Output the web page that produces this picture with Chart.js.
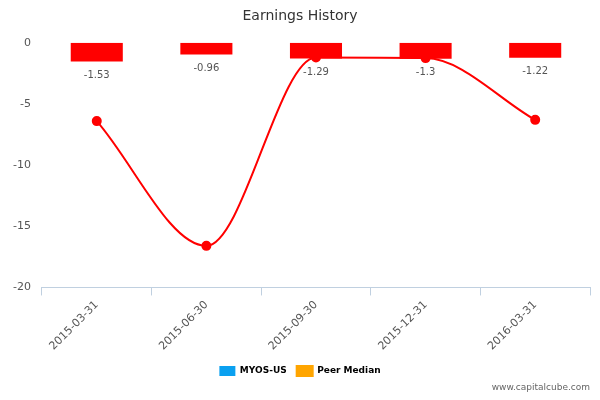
<!DOCTYPE html>
<html>
<head>
<meta charset="utf-8">
<script src="https://cdn.jsdelivr.net/npm/chart.js@4.4.0/dist/chart.umd.min.js"></script>
<style>
  body { margin: 0; background: #fff; font-family: "DejaVu Sans", sans-serif; }
  #wrap { position: relative; width: 600px; height: 400px; }
  #mark { position: absolute; right: 10px; bottom: 8px; font-size: 9px; color: #666; }
</style>
</head>
<body>
<div id="wrap">
  <canvas id="chart" width="600" height="400"></canvas>
  <div id="mark">www.capitalcube.com</div>
</div>
<script>
// Quarter labels
const quarters = ['2015-03-31', '2015-06-30', '2015-09-30', '2015-12-31', '2016-03-31'];
// MYOS-US earnings (bars)
const companyValues = [-1.53, -0.96, -1.29, -1.3, -1.22];
// Peer median (line)
const peerValues = [-6.4, -16.6, -1.2, -1.25, -6.3];

// Draw value labels under each bar
const barLabels = {
    id: 'barLabels',
    afterDatasetsDraw(chart) {
        const ctx = chart.ctx;
        const meta = chart.getDatasetMeta(1);
        ctx.save();
        ctx.font = '10px "DejaVu Sans"';
        ctx.fillStyle = '#555';
        ctx.textAlign = 'center';
        meta.data.forEach((bar, i) => {
            ctx.fillText(String(companyValues[i]), bar.x, bar.y + 14);
        });
        ctx.restore();
    }
};

new Chart(document.getElementById('chart').getContext('2d'), {
    data: {
        labels: quarters,
        datasets: [
            {
                type: 'line',
                label: 'Peer Median',
                data: peerValues,
                borderColor: '#ff0000',
                backgroundColor: '#ff0000',
                borderWidth: 2,
                pointRadius: 4,
                tension: 0.4,
                cubicInterpolationMode: 'monotone',
                order: 0
            },
            {
                type: 'bar',
                label: 'MYOS-US',
                data: companyValues,
                backgroundColor: '#ff0000',
                barPercentage: 0.95,
                categoryPercentage: 0.5,
                order: 1
            }
        ]
    },
    options: {
        responsive: false,
        animation: false,
        layout: { padding: { left: 10, right: 10, top: 0, bottom: 14 } },
        plugins: {
            title: {
                display: true,
                text: 'Earnings History',
                color: '#333',
                font: { size: 14, weight: 'normal', family: 'DejaVu Sans' },
                padding: { top: 8, bottom: 18 }
            },
            legend: {
                position: 'bottom',
                labels: {
                    color: '#333',
                    font: { size: 9, weight: 'bold', family: 'DejaVu Sans' },
                    boxWidth: 16,
                    boxHeight: 10,
                    generateLabels: () => [
                        { text: 'MYOS-US', fillStyle: '#0aa0f0', strokeStyle: '#0aa0f0', lineWidth: 0 },
                        { text: 'Peer Median', fillStyle: '#ffa500', strokeStyle: '#ffa500', lineWidth: 2 }
                    ]
                }
            },
            tooltip: { enabled: false }
        },
        scales: {
            x: {
                offset: true,
                grid: { display: true, drawOnChartArea: false, offset: true, color: '#c0d0e0', tickLength: 8 },
                border: { color: '#c0d0e0' },
                ticks: { color: '#555', font: { size: 11, family: 'DejaVu Sans' }, maxRotation: 45, minRotation: 45 }
            },
            y: {
                min: -20,
                max: 0,
                ticks: { stepSize: 5, color: '#555', font: { size: 11, family: 'DejaVu Sans' } },
                grid: { display: false },
                border: { display: false }
            }
        }
    },
    plugins: [barLabels]
});
</script>
</body>
</html>
